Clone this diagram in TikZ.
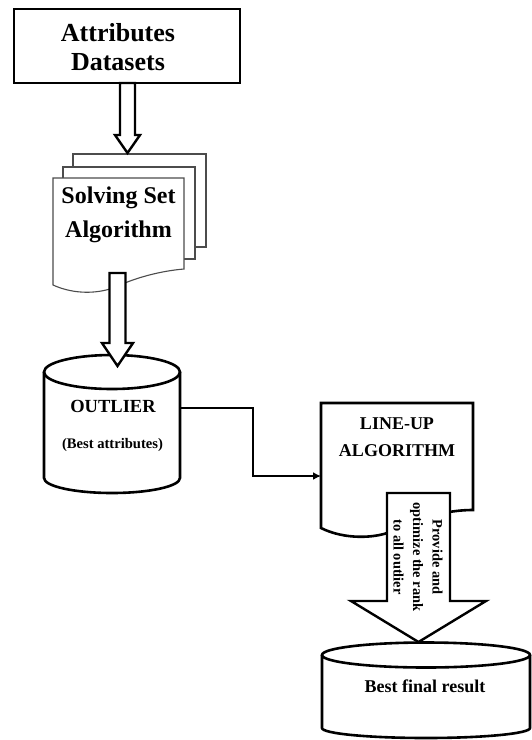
\documentclass[tikz,border=0pt]{standalone}
\usepackage{fontspec}
\setmainfont{Liberation Serif}
\usetikzlibrary{arrows.meta,calc}

\tikzset{
  boxtext/.style={font=\bfseries, align=center, inner sep=0pt},
  outline/.style={line width=2.6pt, line join=miter},
  page/.style={draw=black!70, line width=1.1pt, fill=white},
  hollow/.style={line width=2.4pt, line join=miter, fill=white},
}

% hollow block arrow from #1 (top) to #2 (tip): shaft half width #3, head half width #4, head length #5
\newcommand{\blockarrow}[5]{%
  \draw[hollow] ($(#1)+(-#3,0)$) -- ($(#2)+(-#3,-#5)$) -- ($(#2)+(-#4,-#5)$)
    -- (#2) -- ($(#2)+(#4,-#5)$) -- ($(#2)+(#3,-#5)$) -- ($(#1)+(#3,0)$) -- cycle;
}

\begin{document}
\begin{tikzpicture}[x=1pt,y=-1pt]
\useasboundingbox (0,0) rectangle (531,740);

% input box
\draw[outline] (14,9) rectangle (240,83);
\node[boxtext, font=\bfseries\fontsize{26}{29}\selectfont] (attr) at (118,47) {Attributes\\Datasets};
\coordinate (attrS) at (127.5,83);

% stacked document pages
\draw[page] (73,154) rectangle (206,247);
\draw[page] (63,167) rectangle (195,259);
\draw[page] (53,178) -- (184,178) -- (184,269)
  .. controls (160,271) and (135,278) .. (118,286)
  .. controls (100,294) and (75,295) .. (53,285) -- cycle;
\node[boxtext, font=\bfseries\fontsize{24}{34}\selectfont] (solving) at (118.5,215) {Solving Set\\Algorithm};
\coordinate (solvingN) at (127.5,153);
\coordinate (solvingS) at (117.5,273);

\blockarrow{attrS}{solvingN}{7.5}{12.5}{18}

% outlier store (y axis points down, so the lower rim runs 180 -> 0)
\draw[outline, fill=white] (44,372) -- (44,478) arc[start angle=180, end angle=0, x radius=68, y radius=15] -- (180,372);
\draw[outline] (112,372) ellipse[x radius=68, y radius=17];
\node[boxtext, font=\bfseries\fontsize{18.5}{22}\selectfont] (outlier) at (113,406) {OUTLIER};
\node[boxtext, font=\bfseries\fontsize{14.6}{18}\selectfont] (bestattr) at (112.5,445) {(Best attributes)};
\coordinate (outlierN) at (117.5,366);
\coordinate (outlierE) at (180,408);

\blockarrow{solvingS}{outlierN}{8}{15.5}{23}

% line-up document
\draw[outline, fill=white] (321,403) -- (473,403) -- (473,510)
  .. controls (440,510) and (410,522) .. (390,532)
  .. controls (375,538) and (345,540) .. (321,528) -- cycle;
\node[boxtext, font=\bfseries\fontsize{18}{27}\selectfont] (lineup) at (397,437) {LINE-UP\\ALGORITHM};
\coordinate (lineupW) at (321,476);
\coordinate (lineupS) at (418.5,493);

\draw[outline, -{Latex[length=8pt,width=8pt]}] (outlierE) -- ++(73,0) |- (lineupW);

% final result store
\draw[outline, fill=white] (322,655) -- (322,728) arc[start angle=180, end angle=0, x radius=104, y radius=10] -- (530,655);
\draw[outline] (426,655) ellipse[x radius=104, y radius=12.5];
\node[boxtext, font=\bfseries\fontsize{18}{22}\selectfont] (final) at (425,686) {Best final result};
\coordinate (finalN) at (418.5,642);

\blockarrow{lineupS}{finalN}{31.5}{67.5}{41}
\node[boxtext, rotate=-90, font=\bfseries\fontsize{14.4}{19.5}\selectfont] (rank) at (418,557) {Provide and\\optimize the rank\\to all outlier};

\end{tikzpicture}
\end{document}
